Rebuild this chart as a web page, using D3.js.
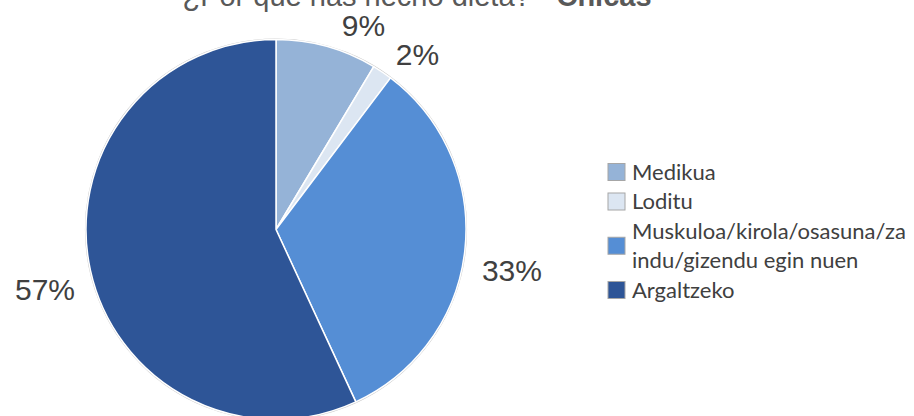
<!DOCTYPE html>
<html>
<head>
<meta charset="utf-8">
<script src="https://cdn.jsdelivr.net/npm/d3@7"></script>
<style>
  html, body { margin: 0; padding: 0; background: #ffffff; }
  svg { display: block; }
</style>
</head>
<body>
<svg id="chart" width="914" height="416"></svg>
<script>
// ---- data ----
const categories = ["Medikua", "Loditu", "Muskuloa/kirola/osasuna/zaindu/gizendu egin nuen", "Argaltzeko"];
const values = [8.6, 1.7, 32.8, 56.9];
const colors = ["#95B3D7", "#DCE6F2", "#558ED5", "#2E5597"];
const titleMain = "¿Por qué has hecho dieta? - ";
const titleBold = "Chicas";

// ---- layout ----
const W = 914, H = 416;
const cx = 276, cy = 229.5, R = 190;
const labelFont = 30, labelPad = 20;
const labelNudgeDeg = [6.7, 3.6, 4.5, -3.3];
const legendX = 608, legendTop = 172, legendStep = 29.5, legendFont = 22, legendWrap = 26;

const svg = d3.select("#chart");
const total = d3.sum(values);
const fmt = d3.format(".0%");

// title
const title = svg.append("text")
  .attr("x", 417).attr("y", 6)
  .attr("text-anchor", "middle")
  .attr("font-family", "'Liberation Sans', Arial, sans-serif")
  .attr("font-size", 29)
  .attr("fill", "#595959");
title.append("tspan").text(titleMain);
title.append("tspan").attr("font-weight", "bold").text(titleBold);

// pie
const pie = d3.pie().sort(null).value(d => d)(values);
const arc = d3.arc().innerRadius(0).outerRadius(R);
const g = svg.append("g").attr("transform", `translate(${cx},${cy})`);

g.append("circle").attr("r", R + 0.5).attr("fill", "none")
  .attr("stroke", "#c8c8c8").attr("stroke-width", 1.2);

g.selectAll("path.slice").data(pie).join("path")
  .attr("class", "slice")
  .attr("d", arc)
  .attr("fill", (d, i) => colors[i])
  .attr("stroke", "#ffffff")
  .attr("stroke-width", 1.5)
  .attr("stroke-linejoin", "round");

// labels (outside end)
const capH = labelFont * 0.716;
pie.forEach((d, i) => {
  const txt = fmt(values[i] / total);
  const w = txt.length === 2 ? labelFont * (0.556 + 0.889) : labelFont * (0.556 * 2 + 0.889);
  const th = (d.startAngle + d.endAngle) / 2 + labelNudgeDeg[i] * Math.PI / 180;
  const sx = Math.sin(th), sy = -Math.cos(th);
  const lx = (R + labelPad) * sx + sx * w / 2;
  const ly = (R + labelPad) * sy + sy * capH / 2;
  g.append("text")
    .attr("x", lx).attr("y", ly + capH / 2)
    .attr("text-anchor", "middle")
    .attr("font-family", "'Liberation Sans', Arial, sans-serif")
    .attr("font-size", labelFont)
    .attr("fill", "#404040")
    .text(txt);
});

// legend
const leg = svg.append("g");
let row = 0;
categories.forEach((c, i) => {
  const lines = [];
  for (let k = 0; k < c.length; k += legendWrap) lines.push(c.slice(k, k + legendWrap));
  const yFirst = legendTop + row * legendStep;
  const yMid = yFirst + (lines.length - 1) * legendStep / 2;
  leg.append("rect")
    .attr("x", legendX).attr("y", yMid - 8.5)
    .attr("width", 17).attr("height", 17)
    .attr("fill", colors[i])
    .attr("stroke", "#a6a6a6").attr("stroke-width", 1);
  lines.forEach((ln, j) => {
    leg.append("text")
      .attr("x", legendX + 24)
      .attr("y", yFirst + j * legendStep)
      .attr("dy", "0.35em")
      .attr("font-family", "Lato, 'Noto Sans', sans-serif")
      .attr("font-size", legendFont)
      .attr("fill", "#404040")
      .text(ln);
  });
  row += lines.length;
});
</script>
</body>
</html>
